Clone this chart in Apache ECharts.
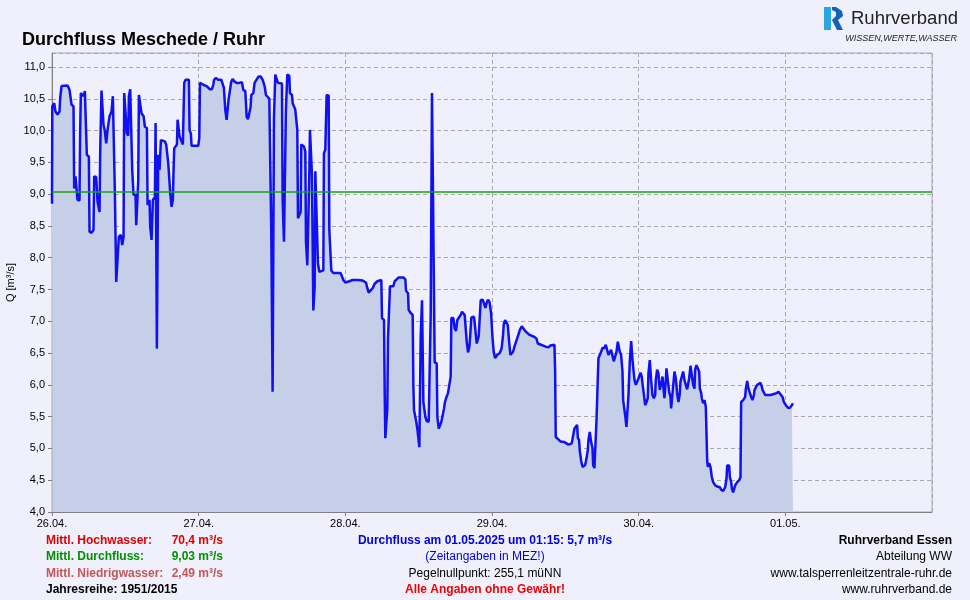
<!DOCTYPE html>
<html><head><meta charset="utf-8">
<script src="https://cdn.jsdelivr.net/npm/echarts@6/dist/echarts.min.js"></script>
<style>html,body{margin:0;padding:0;background:#F0F0FC;}#c{width:970px;height:600px;}</style>
</head><body><div id="c"></div>
<script>
// x tick labels (one per day, start 26.04.2025 00:00)
const dayLabels = ['26.04.', '27.04.', '28.04.', '29.04.', '30.04.', '01.05.', ''];
// hours since 26.04.2025 00:00 (MEZ)
const hours = [
0,0.05,0.36,0.57,0.90,1.23,1.34,1.56,1.88,2.54,2.87,3.08,3.19,3.52,3.63,3.85,4.07,4.17,4.50,4.61,4.72,4.94,5.16,5.38,5.59,5.70,6.03,6.14,6.47,6.79,6.90,7.23,7.45,7.78,7.89,8.10,8.32,8.43,8.65,8.87,9.09,9.30,9.41,9.74,9.96,10.18,10.29,10.51,10.83,10.94,11.27,11.49,11.71,11.82,12.03,12.25,12.47,12.58,12.80,13.02,13.13,13.34,13.67,13.78,14.00,14.11,14.22,14.44,14.65,14.98,15.20,15.53,15.64,15.85,15.96,16.07,16.29,16.51,16.84,16.95,17.16,17.27,17.38,17.60,17.82,18.47,18.69,18.91,19.02,19.35,19.56,19.78,19.89,20.00,20.44,20.55,20.77,20.87,21.20,21.42,21.53,21.64,21.86,22.40,22.51,22.73,22.84,23.93,
24.10,24.21,24.42,24.75,25.30,25.84,26.17,26.39,26.50,26.82,27.15,27.70,27.92,28.13,28.35,28.57,28.79,28.90,29.12,29.33,29.55,29.88,30.21,30.64,31.08,31.30,31.63,31.74,31.85,32.06,32.28,32.50,32.61,32.94,33.15,33.48,33.81,34.14,34.46,34.79,35.01,35.23,35.56,35.77,35.88,36.10,36.21,36.32,36.54,36.76,36.97,37.63,37.74,37.96,38.07,38.28,38.50,38.83,38.94,39.27,39.38,39.59,39.81,40.03,40.14,40.25,40.47,40.69,40.79,41.01,41.23,41.45,41.56,41.78,42.00,42.10,42.21,42.43,42.54,42.65,42.76,42.87,42.98,43.09,43.41,43.52,43.74,44.40,44.50,44.72,44.94,45.27,45.38,45.60,45.70,46.03,47.23,47.45,47.67,47.99,
48.65,49.20,50.02,50.83,51.38,51.60,51.82,52.14,52.47,52.80,53.24,53.56,53.89,54.00,54.33,54.44,54.54,54.76,54.87,54.98,55.20,55.31,55.85,56.07,56.40,56.73,57.49,57.82,57.93,58.26,58.36,58.69,59.02,59.13,59.24,59.46,59.57,59.78,60.00,60.11,60.22,60.33,60.44,60.55,60.66,60.77,60.87,61.09,61.31,61.64,61.86,61.97,62.08,62.18,62.40,62.62,62.95,63.06,63.28,63.60,63.71,63.93,64.15,64.26,64.48,64.80,65.02,65.24,65.35,65.68,65.89,66.11,66.33,66.55,66.88,67.10,67.31,67.53,67.75,67.86,68.08,68.30,68.40,68.62,69.06,69.28,69.50,69.72,69.82,70.04,70.15,70.48,70.70,70.92,71.13,71.35,71.60,
71.85,72.07,72.28,72.50,72.83,73.27,73.59,73.81,73.92,74.14,74.36,74.58,74.80,75.01,75.23,75.45,75.67,75.99,76.32,76.54,76.87,77.09,77.41,78.07,78.83,79.27,79.49,79.71,80.80,81.23,81.56,82.22,82.33,82.43,82.76,83.20,83.85,84.51,85.05,85.27,85.49,85.93,86.04,86.25,86.36,86.58,86.80,87.02,87.24,87.46,87.67,87.78,88.00,88.22,88.44,88.55,88.76,88.98,89.09,89.31,89.42,89.64,89.86,90.07,90.40,90.62,90.84,91.06,91.28,91.49,91.71,91.93,92.15,92.37,92.59,92.80,92.91,93.13,93.35,93.46,93.68,93.79,94.00,94.22,94.33,94.55,94.77,94.99,95.21,95.31,95.53,95.75,95.97,
96.29,96.51,96.62,96.84,97.06,97.28,97.49,97.60,97.82,97.93,98.04,98.26,98.48,98.70,98.80,99.02,99.24,99.35,99.46,99.68,99.79,99.90,100.11,100.22,100.44,100.55,100.77,100.99,101.21,101.31,101.53,101.86,102.08,102.30,102.51,102.73,102.84,103.06,103.28,103.50,103.72,103.93,104.15,104.26,104.48,104.70,104.92,105.13,105.24,105.46,105.68,105.90,106.01,106.23,106.33,106.55,106.77,106.99,107.21,107.32,107.54,107.75,107.97,108.19,108.52,108.85,109.28,109.50,109.83,110.05,110.15,110.37,110.48,110.81,110.92,111.14,111.25,111.46,111.68,111.79,112.12,112.45,112.66,112.77,113.10,113.43,113.54,113.76,113.97,114.19,114.41,114.63,114.85,114.96,115.18,115.39,115.61,115.94,116.16,116.27,116.70,116.92,117.58,118.23,118.56,118.89,119.21,119.54,119.76,120.09,120.41,120.74,121.07,121.25
];
// Durchfluss Q [m³/s]
const flow = [
8.85,10.38,10.43,10.30,10.25,10.30,10.51,10.70,10.73,10.71,10.64,10.62,10.41,10.38,9.09,9.28,9.25,8.91,8.90,10.01,10.59,10.61,10.54,10.62,10.61,9.62,9.59,8.41,8.39,8.44,9.28,9.27,8.88,8.72,9.67,10.63,10.62,10.09,9.99,9.80,10.01,10.04,10.22,10.30,10.54,10.55,9.01,7.62,7.62,8.33,8.36,8.20,8.33,10.59,10.59,9.96,9.92,10.54,10.65,10.64,9.38,8.99,8.99,8.51,8.51,9.20,10.56,10.58,10.27,10.23,10.06,10.04,8.83,8.80,8.91,8.49,8.28,8.91,8.95,10.12,6.57,6.57,9.62,9.38,9.85,9.83,9.78,9.78,9.49,9.01,8.80,8.91,9.38,9.72,9.78,10.17,10.17,9.91,9.83,9.78,10.30,10.75,10.80,10.80,10.01,9.95,9.76,9.76,
9.88,10.75,10.76,10.72,10.70,10.65,10.65,10.72,10.79,10.83,10.80,10.80,10.77,10.67,10.33,10.17,10.20,10.49,10.51,10.77,10.81,10.77,10.75,10.75,10.76,10.64,10.62,10.43,10.22,10.18,10.27,10.38,10.56,10.59,10.75,10.80,10.85,10.85,10.80,10.70,10.56,10.54,10.50,10.47,8.41,5.89,5.89,10.20,10.88,10.86,10.75,10.74,8.91,8.25,8.24,10.33,10.88,10.86,10.59,10.56,10.43,10.41,10.33,10.30,10.01,8.62,8.60,8.72,9.78,9.78,9.75,9.67,8.25,7.88,7.88,9.30,10.01,10.01,9.30,9.30,7.17,7.16,7.54,9.36,9.38,7.91,7.78,7.80,9.64,9.70,10.56,10.55,8.44,8.41,7.80,7.76,7.76,7.73,7.65,7.61,
7.63,7.65,7.65,7.64,7.61,7.52,7.45,7.45,7.52,7.59,7.63,7.65,7.65,7.05,7.02,5.89,5.16,5.16,5.63,6.73,6.76,7.55,7.55,7.63,7.66,7.69,7.69,7.66,7.48,7.44,7.18,7.13,7.10,6.00,5.60,5.59,5.44,5.31,5.30,5.02,5.02,6.76,6.78,7.33,7.33,5.73,5.72,5.50,5.43,5.42,5.44,7.10,7.13,10.59,10.59,6.35,6.34,5.50,5.31,5.30,5.42,5.52,5.63,5.71,5.79,5.87,5.87,6.13,7.05,7.05,6.89,6.85,7.02,7.05,7.10,7.15,7.18,7.10,7.07,6.68,6.51,6.60,6.73,7.06,7.07,6.86,6.65,6.65,6.76,7.13,7.33,7.34,7.31,7.21,7.29,7.34,7.30,
7.13,6.76,6.52,6.42,6.47,6.50,6.58,6.79,6.95,7.02,7.05,6.94,6.68,6.47,6.44,6.52,6.60,6.63,6.79,6.86,6.92,6.90,6.85,6.79,6.76,6.73,6.65,6.62,6.60,6.59,6.62,6.63,6.21,5.18,5.15,5.11,5.10,5.06,5.08,5.10,5.31,5.37,5.17,5.13,4.97,4.81,4.71,4.69,4.74,4.84,4.97,5.13,5.26,5.10,5.01,4.74,4.69,4.71,5.42,5.45,6.42,6.44,6.52,6.58,6.58,6.63,6.65,6.47,6.44,6.55,6.58,6.37,6.34,6.52,6.68,6.69,6.52,6.47,6.21,5.76,5.73,5.52,5.34,5.34,5.84,6.37,6.69,6.39,6.39,6.08,6.00,5.97,6.10,
6.19,6.13,6.02,5.86,5.68,5.73,5.79,6.18,6.39,6.39,6.07,5.84,5.79,5.84,6.07,6.24,6.18,6.02,5.92,5.89,6.07,6.13,5.89,5.79,6.07,6.26,6.07,5.89,5.81,5.63,5.86,6.21,6.10,5.86,5.73,5.86,6.05,6.07,6.21,6.07,6.05,5.93,5.92,6.10,6.30,6.31,6.00,5.94,6.24,6.31,6.31,6.21,5.94,5.87,5.79,5.71,5.76,5.65,4.81,4.71,4.77,4.71,4.55,4.47,4.42,4.40,4.39,4.35,4.33,4.30,4.39,4.52,4.73,4.73,4.55,4.47,4.37,4.31,4.33,4.42,4.47,4.50,4.55,5.73,5.76,5.81,5.94,6.06,5.94,5.92,5.81,5.76,5.84,5.92,5.94,6.00,6.03,6.03,5.97,5.92,5.84,5.81,5.84,5.86,5.87,5.89,5.86,5.81,5.73,5.68,5.64,5.64,5.68,5.71
];
const meanFlow = 9.03;
const yMin = 4, yMax = 11.22, yStep = 0.5;

const F = 'Liberation Sans, Arial, sans-serif';
const data = hours.map((h, i) => [h, flow[i]]);

function txt(x, y, text, opt) {
  opt = opt || {};
  return {
    type: 'text', x: x, y: y, silent: true,
    style: {
      text: text, fill: opt.fill || '#000',
      font: (opt.italic ? 'italic ' : '') + (opt.bold ? 'bold ' : '') + (opt.size || 12) + 'px ' + F,
      textAlign: opt.align || 'left', textVerticalAlign: 'middle',
      align: opt.align || 'left', verticalAlign: 'middle'
    }
  };
}

const chart = echarts.init(document.getElementById('c'), null, {renderer: 'canvas'});
chart.setOption({
  animation: false,
  backgroundColor: '#F0F0FC',
  grid: {left: 52, right: 38, top: 53, bottom: 88, show: true, borderColor: '#A8A8B8', borderWidth: 1,
    backgroundColor: '#F0F0FC', containLabel: false, outerBoundsMode: 'none'},
  xAxis: {
    type: 'value', min: 0, max: 144, interval: 24,
    axisLine: {show: true, lineStyle: {color: '#808080'}},
    axisTick: {show: true, length: 4, lineStyle: {color: '#808080'}},
    axisLabel: {color: '#000', fontSize: 11, fontFamily: F, margin: 6, showMaxLabel: false,
      formatter: v => dayLabels[Math.round(v / 24)] || ''},
    splitLine: {show: true, lineStyle: {color: '#A8A8A8', type: [4, 3], width: 1}}
  },
  yAxis: {
    type: 'value', min: yMin, max: yMax, interval: yStep,
    name: 'Q [m³/s]', nameLocation: 'middle', nameGap: 36, nameRotate: 90, nameMoveOverlap: false,
    nameTextStyle: {color: '#000', fontSize: 11, fontFamily: F},
    axisLine: {show: true, lineStyle: {color: '#808080'}},
    axisTick: {show: true, length: 4, lineStyle: {color: '#808080'}},
    axisLabel: {color: '#000', fontSize: 11, fontFamily: F, margin: 7, showMaxLabel: false,
      formatter: v => v.toFixed(1).replace('.', ',')},
    splitLine: {show: true, lineStyle: {color: '#A8A8A8', type: [4, 3], width: 1}}
  },
  series: [{
    type: 'line', data: data, showSymbol: false, symbol: 'none', smooth: false,
    lineStyle: {color: '#1010F0', width: 2.5},
    areaStyle: {color: '#C5D0E8', opacity: 1},
    markLine: {
      silent: true, symbol: 'none', label: {show: false},
      lineStyle: {color: '#14A014', width: 1.5, type: 'solid'},
      data: [{yAxis: meanFlow}]
    }
  }],
  graphic: [
    txt(22, 40, 'Durchfluss Meschede / Ruhr', {bold: true, size: 18}),
    // logo
    {type: 'polygon', silent: true, shape: {points: [[824,7],[831,7],[831,30],[824,30]]}, style: {fill: '#2AA6E0'}},
    {type: 'polygon', silent: true, shape: {points: [[832,7],[836,7],[842,11],[843,16],[838,20],[843,30],[837,30],[832,20],[836,16],[836,12],[832,10]]}, style: {fill: '#1462B4'}},
    txt(851, 19, 'Ruhrverband', {size: 18.5, fill: '#222'}),
    txt(957, 38, 'WISSEN,WERTE,WASSER', {size: 9, italic: true, align: 'right', fill: '#222'}),
    // left column
    txt(46, 541, 'Mittl. Hochwasser:', {bold: true, fill: '#E00000'}),
    txt(223, 541, '70,4 m³/s', {bold: true, fill: '#E00000', align: 'right'}),
    txt(46, 557, 'Mittl. Durchfluss:', {bold: true, fill: '#009000'}),
    txt(223, 557, '9,03 m³/s', {bold: true, fill: '#009000', align: 'right'}),
    txt(46, 574, 'Mittl. Niedrigwasser:', {bold: true, fill: '#C05858'}),
    txt(223, 574, '2,49 m³/s', {bold: true, fill: '#C05858', align: 'right'}),
    txt(46, 590, 'Jahresreihe: 1951/2015', {bold: true}),
    // center column
    txt(485, 541, 'Durchfluss am 01.05.2025 um 01:15: 5,7 m³/s', {bold: true, fill: '#0000E0', align: 'center'}),
    txt(485, 557, '(Zeitangaben in MEZ!)', {fill: '#0000E0', align: 'center'}),
    txt(485, 574, 'Pegelnullpunkt: 255,1 müNN', {align: 'center'}),
    txt(485, 590, 'Alle Angaben ohne Gewähr!', {bold: true, fill: '#F00000', align: 'center'}),
    // right column
    txt(952, 541, 'Ruhrverband Essen', {bold: true, align: 'right'}),
    txt(952, 557, 'Abteilung WW', {align: 'right'}),
    txt(952, 574, 'www.talsperrenleitzentrale-ruhr.de', {align: 'right'}),
    txt(952, 590, 'www.ruhrverband.de', {align: 'right'})
  ]
});
</script></body></html>
